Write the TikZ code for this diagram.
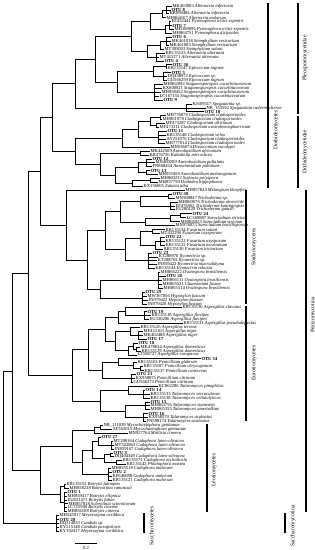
\documentclass[tikz,border=0pt]{standalone}
\usepackage{fontspec}
\setmainfont{Liberation Serif}
\usetikzlibrary{calc}
\newcommand\acc[2]{#1 \textit{#2}}
\newcommand\otu[1]{\textbf{OTU #1}}
% clade: name, x, first child, last child, all children
\newcommand\clade[5]{%
  \path let \p1=(#3), \p2=(#4) in coordinate (#1) at (#2pt,{(\y1+\y2)/2});
  \foreach \c in {#5} \draw[br] (#1) |- (\c);}
\begin{document}
\begin{tikzpicture}[x=1pt,y=-1pt,
    leaf/.style={anchor=west,inner sep=0.6pt,outer sep=0pt,font=\fontsize{4.6}{5}\selectfont},
    br/.style={line width=0.7pt},
    bar/.style={line width=1.2pt},
    grp/.style={rotate=90,font=\fontsize{5.6}{6}\selectfont}
  ]
  \useasboundingbox (0,0) rectangle (315,550);
  % leaves
  \foreach \i/\x/\t in {
    1/172/\acc{MK463003}{Alternaria infectoria},
    2/171/\otu{8},
    3/169/\acc{KR090484}{Alternaria infectoria},
    4/166/\acc{MH864167}{Alternaria malorum},
    5/171/\acc{EF452441}{Pyrenophora tritici-repentis},
    6/172/\otu{7},
    7/174/\acc{MH189096}{Pyrenophora tritici-repentis},
    8/172/\acc{MH864751}{Pyrenophora dictyoides},
    9/172/\otu{6},
    10/171/\acc{MK461018}{Stemphylium vesicarium},
    11/169/\acc{MK461003}{Stemphylium vesicarium},
    12/164/\acc{MT305003}{Stemphylium solani},
    13/165/\acc{KR135123}{Alternaria alternata},
    14/159/\acc{MT415271}{Alternaria alternata},
    15/164/\otu{4},
    16/172/\otu{36},
    17/167/\acc{KR135147}{Epicoccum nigrum},
    18/171/\otu{5},
    19/167/\acc{DQ438972}{Epicoccum sp.},
    20/167/\acc{GU566259}{Epicoccum nigrum},
    21/163/\acc{MH862092}{Stagonosporopsis cucurbitacearum},
    22/162/\acc{KX600921}{Stagonosporopsis cucurbitacearum},
    23/161/\acc{MH858452}{Stagonosporopsis cucurbitacearum},
    24/159/\acc{LC167155}{Stagonosporopsis cucurbitacearum},
    25/163/\otu{9},
    26/192/\acc{KJ609317}{Spegazzinia sp.},
    27/206/\acc{NR\_153592}{Spegazzinia radermacherae},
    28/204/\otu{10},
    29/166/\acc{MH776078}{Cladosporium cladosporioides},
    30/162/\acc{MH861978}{Cladosporium cladosporioides},
    31/165/\acc{MF473287}{Cladosporium allicinum},
    32/159/\acc{MF473311}{Cladosporium austrohemisphaericum},
    33/167/\otu{11},
    34/166/\acc{KR135148}{Cladosporium velox},
    35/166/\acc{AY251076}{Cladosporium cladosporioides},
    36/165/\acc{MH777014}{Cladosporium cladosporioides},
    37/170/\acc{MN036674}{Dissoconium eucalypti},
    38/150/\acc{MK442569}{Aureobasidium africanum},
    39/149/\acc{KR476726}{Kabatiella microsticta},
    40/152/\otu{12},
    41/155/\acc{MN400209}{Aureobasidium pullulans},
    42/152/\acc{FN868454}{Aureobasidium pullulans},
    43/150/\otu{13},
    44/158/\acc{MH055459}{Aureobasidium melanogenum},
    45/160/\acc{MH860232}{Sydowia polyspora},
    46/158/\acc{MH857750}{Dothidea hippophaeos},
    47/143/\acc{KX156065}{Zalaria alba},
    48/185/\acc{MH857824}{Metangium kloepferi},
    49/172/\otu{30},
    50/175/\acc{MN508847}{Trichoderma sp.},
    51/178/\acc{MH860676}{Trichoderma atroviride},
    52/175/\acc{EF476562}{Trichoderma koningiopsis},
    53/175/\acc{EU280129}{Trichoderma gamsii},
    54/192/\otu{24},
    55/186/\acc{LC360887}{Sarocladium strictum},
    56/180/\acc{MH866025}{Sarocladium strictum},
    57/175/\acc{MN978073}{Sarocladium bacillisporum},
    58/165/\acc{KR135134}{Fusarium solani},
    59/160/\acc{MT432296}{Fusarium oxysporum},
    60/165/\otu{22},
    61/165/\acc{KR135122}{Fusarium oxysporum},
    62/165/\acc{KR135132}{Fusarium incarnatum},
    63/163/\acc{KR135130}{Fusarium tricinctum},
    64/152/\otu{23},
    65/158/\acc{KT288970}{Ilyonectria sp.},
    66/157/\acc{KT288765}{Ilyonectria sp.},
    67/157/\acc{JN859422}{Ilyonectria macrodidyma},
    68/155/\acc{KR135144}{Ilyonectria robusta},
    69/160/\acc{MH866222}{Ovatospora brasiliensis},
    70/166/\otu{26},
    71/162/\acc{MH866111}{Ovatospora brasiliensis},
    72/162/\acc{MH865521}{Chaetomium fusum},
    73/163/\acc{MH865314}{Ovatospora brasiliensis},
    74/145/\otu{29},
    75/147/\acc{MW367856}{Hypoxylon fuscum},
    76/148/\acc{JN979422}{Hypoxylon fuscum},
    77/147/\acc{JN979420}{Hypoxylon fuscum},
    78/182/\acc{KR135136}{Aspergillus clavatus},
    79/147/\otu{19},
    80/151/\acc{KR135118}{Aspergillus flavipes},
    81/149/\acc{EU326206}{Aspergillus flavipes},
    82/183/\acc{KR135131}{Aspergillus pseudodeflectus},
    83/140/\acc{KR135126}{Aspergillus terreus},
    84/143/\acc{MF422163}{Aspergillus niger},
    85/143/\acc{MK462488}{Aspergillus niger},
    86/147/\otu{17},
    87/138/\otu{18},
    88/140/\acc{MK478634}{Aspergillus domesticus},
    89/141/\acc{KR135129}{Aspergillus domesticus},
    90/137/\acc{LT558727}{Aspergillus europaeus},
    91/201/\otu{34},
    92/137/\acc{KR135163}{Penicillium glabrum},
    93/143/\acc{KR135187}{Penicillium chrysogenum},
    94/144/\acc{KR135137}{Penicillium canescens},
    95/136/\otu{21},
    96/135/\acc{KX958075}{Penicillium citrinum},
    97/133/\acc{GU566273}{Penicillium citrinum},
    98/158/\acc{KC862286}{Talaromyces pinophilus},
    99/145/\otu{14},
    100/150/\acc{KR135133}{Talaromyces verruculosus},
    101/150/\acc{KR135138}{Talaromyces cellulolyticus},
    102/150/\otu{15},
    103/150/\acc{MH865756}{Talaromyces siamensis},
    104/150/\acc{MH865355}{Talaromyces amestolkiae},
    105/148/\otu{16},
    106/148/\acc{KX958579}{Talaromyces aculeatus},
    107/146/\acc{FN598174}{Talaromyces aculeatus},
    108/103/\acc{NR\_111039}{Mycochaetophora gentianae},
    109/112/\acc{AF362015}{Mycochaetophora gentianae},
    110/128/\acc{MN927764}{Mollisia cinerea},
    111/101/\otu{27},
    112/113/\acc{MT298164}{Cadophora luteo-olivacea},
    113/114/\acc{MT522863}{Cadophora luteo-olivacea},
    114/114/\acc{JN859167}{Cadophora luteo-olivacea},
    115/113/\otu{3},
    116/114/\acc{DQ404349}{Cadophora luteo-olivacea},
    117/122/\acc{KR135171}{Cadophora orchidicola},
    118/126/\acc{KR135142}{Phialophora mustea},
    119/111/\acc{MH855518}{Cadophora malorum},
    120/112/\otu{2},
    121/112/\acc{KF646089}{Cadophora malorum},
    122/112/\acc{KR135121}{Cadophora malorum},
    123/66/\acc{KR135152}{Botrytis fabiopsis},
    124/69/\acc{MH858238}{Botryotinia ranunculi},
    125/67/\otu{1},
    126/67/\acc{MH859417}{Botrytis elliptica},
    127/67/\acc{EU821471}{Botrytis fabae},
    128/68/\acc{MH857818}{Sclerotinia sclerotiorum},
    129/67/\acc{LC715949}{Botrytis cinerea},
    130/67/\acc{MH856108}{Botrytis cinerea},
    131/59/\acc{MH545917}{Meyerozyma caribbica},
    132/59/\otu{28},
    133/59/\acc{DQ314833}{Candida sp.},
    134/59/\acc{KY215148}{Candida parapsilosis},
    135/59/\acc{KY102417}{Meyerozyma caribbica}}
  {\node[leaf] (l\i) at (\x,{6+(\i-1)*3.92}) {\t};}

  % Pleosporomycetidae
  \clade{a1}{166}{l1}{l3}{l1,l2,l3}
  \clade{a2}{162}{a1}{l4}{a1,l4}
  \clade{a3}{169}{l5}{l7}{l5,l6,l7}
  \clade{a4}{165}{a3}{l8}{a3,l8}
  \clade{a5}{150}{a2}{a4}{a2,a4}
  \clade{a6}{166}{l9}{l11}{l9,l10,l11}
  \clade{a7}{160}{a6}{l12}{a6,l12}
  \clade{a8}{156}{l13}{l15}{l13,l14,l15}
  \clade{a9}{147}{a7}{a8}{a7,a8}
  \clade{a10}{131}{a5}{a9}{a5,a9}
  \clade{b1}{166}{l16}{l17}{l16,l17}
  \clade{b2}{163}{l18}{l20}{l18,l19,l20}
  \clade{b3}{153}{b1}{b2}{b1,b2}
  \clade{b4}{154}{l21}{l25}{l21,l22,l23,l24,l25}
  \clade{b5}{117}{b3}{b4}{b3,b4}
  \clade{c1}{95}{a10}{b5}{a10,b5}
  \clade{c2}{186}{l26}{l28}{l26,l27,l28}
  \clade{c3}{75}{c1}{c2}{c1,c2}
  % Dothideomycetidae
  \clade{d1}{160}{l29}{l30}{l29,l30}
  \clade{d2}{156}{l31}{l32}{l31,l32}
  \clade{d3}{150}{d1}{d2}{d1,d2}
  \clade{d4}{158}{l33}{l36}{l33,l34,l35,l36}
  \clade{d5}{138}{d3}{d4}{d3,d4}
  \clade{d6}{122}{d5}{l37}{d5,l37}
  \clade{e1}{140}{l38}{l39}{l38,l39}
  \clade{e2}{146}{l40}{l42}{l40,l41,l42}
  \clade{e3}{146}{l43}{l44}{l43,l44}
  \clade{e4}{138}{e2}{e3}{e2,e3}
  \clade{e5}{150}{l45}{l46}{l45,l46}
  \clade{e6}{132}{e5}{l47}{e5,l47}
  \clade{e7}{115}{e4}{e6}{e4,e6}
  \clade{e8}{100}{e1}{e7}{e1,e7}
  \clade{e9}{75}{d6}{e8}{d6,e8}
  \clade{f1}{52}{c3}{e9}{c3,e9}
  % Sordariomycetes
  \clade{g0}{168}{l49}{l50}{l49,l50}
  \clade{g1a}{170}{l51}{l53}{l51,l52,l53}
  \clade{g1}{140}{g0}{g1a}{g0,g1a}
  \clade{g2a}{180}{l54}{l55}{l54,l55}
  \clade{g2b}{170}{g2a}{l56}{g2a,l56}
  \clade{g2}{145}{g2b}{l57}{g2b,l57}
  \clade{g3}{120}{g1}{g2}{g1,g2}
  \clade{h1}{160}{l60}{l62}{l60,l61,l62}
  \clade{h2}{155}{h1}{l63}{h1,l63}
  \clade{h3}{152}{l58}{l59}{l58,l59}
  \clade{h4}{140}{h3}{h2}{h3,h2}
  \clade{h5}{148}{l64}{l68}{l64,l65,l66,l67,l68}
  \clade{h6}{125}{h4}{h5}{h4,h5}
  \clade{h7}{105}{g3}{h6}{g3,h6}
  \clade{i1}{158}{l69}{l73}{l69,l70,l71,l72,l73}
  \clade{i2}{142}{l74}{l77}{l74,l75,l76,l77}
  \clade{i3}{100}{i1}{i2}{i1,i2}
  \clade{i4}{87}{h7}{i3}{h7,i3}
  \clade{m1}{66}{l48}{i4}{l48,i4}
  \clade{m2}{40}{f1}{m1}{f1,m1}
  % Eurotiomycetes
  \clade{p1}{144}{l79}{l81}{l79,l80,l81}
  \clade{p2}{125}{l78}{p1}{l78,p1}
  \clade{p3}{118}{p2}{l82}{p2,l82}
  \clade{p4}{138}{l84}{l86}{l84,l85,l86}
  \clade{p5}{130}{l83}{p4}{l83,p4}
  \clade{p6}{136}{l88}{l89}{l88,l89}
  \clade{p7}{133}{l87}{p6}{l87,p6}
  \clade{p8}{128}{p7}{l90}{p7,l90}
  \clade{p9}{115}{p5}{p8}{p5,p8}
  \clade{p10}{105}{p3}{p9}{p3,p9}
  \clade{q1}{140}{l93}{l94}{l93,l94}
  \clade{q2}{133}{l92}{q1}{l92,q1}
  \clade{q3}{118}{l91}{q2}{l91,q2}
  \clade{q4}{131}{l95}{l97}{l95,l96,l97}
  \clade{q5}{102}{q3}{q4}{q3,q4}
  \clade{u1}{88}{p10}{q5}{p10,q5}
  \clade{t1}{143}{l99}{l101}{l99,l100,l101}
  \clade{t2}{128}{l98}{t1}{l98,t1}
  \clade{t3}{145}{l102}{l104}{l102,l103,l104}
  \clade{t4}{143}{l105}{l107}{l105,l106,l107}
  \clade{t5}{125}{t3}{t4}{t3,t4}
  \clade{t6}{100}{t2}{t5}{t2,t5}
  \clade{u2}{72}{u1}{t6}{u1,t6}
  \clade{v1}{28}{m2}{u2}{m2,u2}
  % Leotiomycetes
  \clade{w1}{100}{l108}{l109}{l108,l109}
  \clade{w2}{94}{w1}{l110}{w1,l110}
  \clade{w3}{111}{l112}{l114}{l112,l113,l114}
  \clade{w4}{98}{l111}{w3}{l111,w3}
  \clade{w5}{110}{l115}{l116}{l115,l116}
  \clade{w5b}{116}{l117}{l118}{l117,l118}
  \clade{w6}{104}{w5}{w5b}{w5,w5b}
  \clade{w7}{92}{w4}{w6}{w4,w6}
  \clade{w8}{108}{l119}{l122}{l119,l120,l121,l122}
  \clade{w9}{82}{w7}{w8}{w7,w8}
  \clade{w10}{72}{w2}{w9}{w2,w9}
  \clade{z1}{64}{l123}{l124}{l123,l124}
  \clade{z2}{64}{l125}{l130}{l125,l126,l127,l128,l129,l130}
  \clade{z3}{60}{z1}{z2}{z1,z2}
  \clade{lt}{40}{w10}{z3}{w10,z3}
  \clade{pz}{12}{v1}{lt}{v1,lt}
  % Saccharomycetes and root
  \clade{sc}{56}{l131}{l135}{l131,l132,l133,l134,l135}
  \clade{rt}{3}{pz}{sc}{pz,sc}

  % class brackets
  \coordinate (pl1) at (298,3);   \coordinate (pl2) at (298,114);
  \coordinate (dd1) at (298,116); \coordinate (dd2) at (298,188);
  \coordinate (dt1) at (268,3);   \coordinate (dt2) at (268,188);
  \coordinate (so1) at (246,190); \coordinate (so2) at (246,304);
  \coordinate (eu1) at (246,306); \coordinate (eu2) at (246,421);
  \coordinate (le1) at (207,424); \coordinate (le2) at (207,512);
  \coordinate (pe1) at (306,190); \coordinate (pe2) at (306,512);
  \coordinate (sa1) at (144,513); \coordinate (sa2) at (144,533);
  \coordinate (st1) at (285,513); \coordinate (st2) at (285,533);
  \draw[bar] (pl1) -- (pl2) (dd1) -- (dd2) (dt1) -- (dt2) (so1) -- (so2)
    (eu1) -- (eu2) (le1) -- (le2) (pe1) -- (pe2) (sa1) -- (sa2) (st1) -- (st2);
  \node[grp] (plab) at (305,58) {Pleosporomycetidae};
  \node[grp] (ddlab) at (305,152) {Dothideomycetidae};
  \node[grp] (dtlab) at (276,130) {Dothideomycetes};
  \node[grp] (solab) at (254,247) {Sordariomycetes};
  \node[grp] (eulab) at (254,363) {Eurotiomycetes};
  \node[grp] (lelab) at (214,470) {Leotiomycetes};
  \node[grp] (pelab) at (313,315) {Pezizomycotina};
  \node[grp] (salab) at (152,526) {Saccharomycetes};
  \node[grp] (stlab) at (293,526) {Saccharomycotina};

  % scale bar
  \coordinate (sb1) at (75,543); \coordinate (sb2) at (97,543);
  \draw[br] (sb1) -- (sb2);
  \node[font=\fontsize{4.6}{5}\selectfont,inner sep=0.5pt] (sbl) at (86,547.5) {0.2};
\end{tikzpicture}
\end{document}
